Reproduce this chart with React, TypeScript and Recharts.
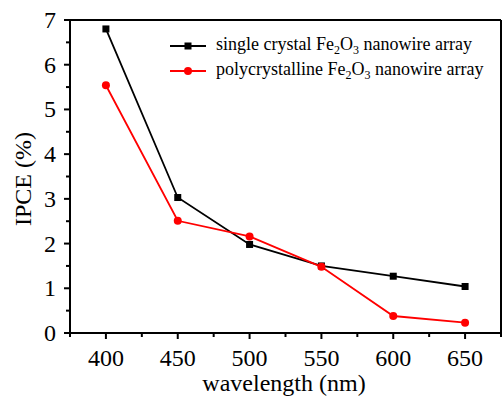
import React from "react";
import { LineChart, Line, XAxis, YAxis, ReferenceLine } from "recharts";

const wavelengths = [400, 450, 500, 550, 600, 650];
const singleCrystal = [6.8, 3.03, 1.98, 1.5, 1.27, 1.04];
const polycrystalline = [5.54, 2.51, 2.16, 1.48, 0.38, 0.23];
const xTicks = [375, 400, 425, 450, 475, 500, 525, 550, 575, 600, 625, 650, 675];
const yTicks = [0, 0.5, 1, 1.5, 2, 2.5, 3, 3.5, 4, 4.5, 5, 5.5, 6, 6.5, 7];

const data = wavelengths.map((w, i) => ({
  w,
  single: singleCrystal[i],
  poly: polycrystalline[i],
}));

const FONT = '"Liberation Serif", "Times New Roman", serif';
const textStyle = { fontFamily: FONT, fontSize: 24, fill: "#000" };

function XTick(props: any) {
  const { x, y, payload } = props;
  const major = payload.value % 50 === 0 && payload.value !== 375 && payload.value !== 675;
  return (
    <g>
      <line x1={x} x2={x} y1={y} y2={y + (major ? 6 : 4)} stroke="#000" strokeWidth={2} />
      {major && (
        <text x={x} y={y + 33} textAnchor="middle" style={textStyle}>
          {payload.value}
        </text>
      )}
    </g>
  );
}

function YTick(props: any) {
  const { x, y, payload } = props;
  const major = Number.isInteger(payload.value);
  return (
    <g>
      <line x1={x} x2={x - (major ? 6 : 4)} y1={y} y2={y} stroke="#000" strokeWidth={2} />
      {major && (
        <text x={x - 14} y={y + 8} textAnchor="end" style={textStyle}>
          {payload.value}
        </text>
      )}
    </g>
  );
}

const squareDot = (props: any) => {
  const { cx, cy, index } = props;
  return <rect key={`sq-${index}`} x={cx - 3.5} y={cy - 3.5} width={7} height={7} fill="#000" />;
};

function LegendRow({ color, square, label }: { color: string; square: boolean; label: string }) {
  return (
    <div style={{ display: "flex", alignItems: "center", height: 25 }}>
      <svg width={40} height={12} style={{ marginRight: 8 }}>
        <line x1={2} x2={38} y1={6} y2={6} stroke={color} strokeWidth={2} />
        {square ? (
          <rect x={16.5} y={2.5} width={7} height={7} fill={color} />
        ) : (
          <circle cx={20} cy={6} r={4} fill={color} />
        )}
      </svg>
      <span>
        {label} Fe<sub style={{ fontSize: 12, verticalAlign: -4 }}>2</sub>O
        <sub style={{ fontSize: 12, verticalAlign: -4 }}>3</sub> nanowire array
      </span>
    </div>
  );
}

export default function App() {
  return (
    <div style={{ position: "fixed", left: 0, top: 0, width: 503, height: 400, background: "#fff" }}>
      <LineChart width={503} height={400} data={data} margin={{ top: 20, right: 2, left: 0, bottom: 0 }}>
        <XAxis
          dataKey="w"
          type="number"
          domain={[375, 675]}
          ticks={xTicks}
          interval={0}
          tick={<XTick />}
          tickLine={false}
          tickSize={0}
          tickMargin={0}
          height={67}
          axisLine={{ stroke: "#000", strokeWidth: 2 }}
          label={() => (
            <text x={284} y={391} textAnchor="middle" style={textStyle}>
              wavelength (nm)
            </text>
          )}
        />
        <YAxis
          type="number"
          domain={[0, 7]}
          ticks={yTicks}
          interval={0}
          tick={<YTick />}
          tickLine={false}
          tickSize={0}
          tickMargin={0}
          width={70}
          axisLine={{ stroke: "#000", strokeWidth: 2 }}
          label={() => (
            <text x={31} y={179} transform="rotate(-90 31 179)" textAnchor="middle" style={textStyle}>
              IPCE (%)
            </text>
          )}
        />
        <ReferenceLine y={7} stroke="#000" strokeWidth={2} />
        <ReferenceLine x={675} stroke="#000" strokeWidth={2} />
        <Line
          dataKey="single"
          type="linear"
          stroke="#000"
          strokeWidth={1.8}
          dot={squareDot}
          isAnimationActive={false}
        />
        <Line
          dataKey="poly"
          type="linear"
          stroke="#ff0000"
          strokeWidth={1.8}
          dot={{ r: 4, fill: "#ff0000", stroke: "#ff0000", strokeWidth: 0 }}
          isAnimationActive={false}
        />
      </LineChart>
      <div
        style={{
          position: "absolute",
          left: 168,
          top: 33,
          fontFamily: FONT,
          fontSize: 18,
          color: "#000",
          lineHeight: 1,
        }}
      >
        <LegendRow color="#000" square label="single crystal" />
        <LegendRow color="#ff0000" square={false} label="polycrystalline" />
      </div>
    </div>
  );
}
